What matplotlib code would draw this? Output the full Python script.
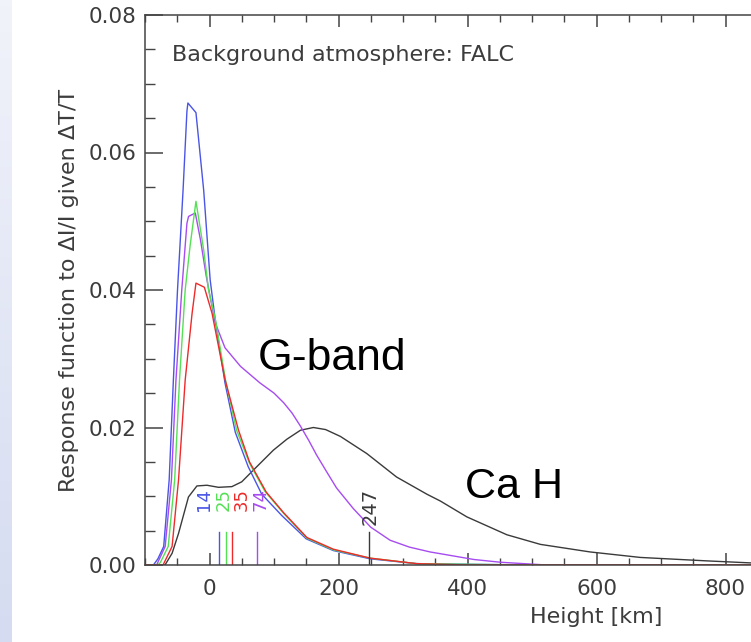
import numpy as np
import matplotlib
matplotlib.use("Agg")
import matplotlib.pyplot as plt
from matplotlib.ticker import MultipleLocator, FixedLocator, FormatStrFormatter

# response functions, height in km
h_14 = [-100, -87, -80, -71, -62.5, -56, -49.6, -41, -35, -33.5, -21, -9, 1, 9, 24, 40, 60, 81, 112, 150, 192, 249, 321, 400, 500, 1300]
r_14 = [0, 0, 0.0009, 0.0027, 0.0124, 0.0269, 0.040, 0.0545, 0.066, 0.0672, 0.0658, 0.0545, 0.0415, 0.0356, 0.0265, 0.0193, 0.0143, 0.0103, 0.0072, 0.0038, 0.0021, 0.0009, 0.0002, 0.0001, 0, 0]

h_25 = [-100, -80, -76, -64, -54, -46.5, -37.7, -30, -21, -9, -1.5, 9, 25, 42, 62, 86, 115, 151, 192, 249, 321, 400, 500, 1300]
r_25 = [0, 0, 0.0004, 0.0027, 0.0124, 0.0269, 0.040, 0.0465, 0.0529, 0.0458, 0.040, 0.0358, 0.0268, 0.0196, 0.0148, 0.0107, 0.0075, 0.0039, 0.0022, 0.0010, 0.0002, 0.0001, 0, 0]

h_35 = [-100, -72, -58, -48, -37.7, -27, -21, -8, 4, 24, 45, 62, 88, 115, 151, 192, 249, 321, 400, 1300]
r_35 = [0, 0, 0.0027, 0.0124, 0.0269, 0.0366, 0.041, 0.0404, 0.0366, 0.0270, 0.0196, 0.0150, 0.0106, 0.0076, 0.0040, 0.0023, 0.0010, 0.0002, 0, 0]

h_74 = [-100, -82, -68.7, -59, -52, -43, -35, -32.5, -22, -14, -5, 2, 9, 24, 48, 78, 100, 115, 128, 141, 154, 166, 182, 197, 223, 250, 280, 310, 342, 373, 410, 451, 523, 1300]
r_74 = [0, 0, 0.0027, 0.0124, 0.0269, 0.040, 0.0497, 0.0507, 0.0512, 0.0473, 0.042, 0.0385, 0.0352, 0.0316, 0.0289, 0.0265, 0.0250, 0.0236, 0.0221, 0.0202, 0.0181, 0.0160, 0.0135, 0.0112, 0.0082, 0.0055, 0.0036, 0.0026, 0.0019, 0.0014, 0.0008, 0.0004, 0, 0]

h_247 = [-100, -69, -58, -48, -32.6, -19.5, -4, 14, 34.7, 50, 68, 99, 120, 141, 161, 180, 203, 244, 290, 337, 358, 399, 461, 513, 590, 668, 771, 840, 1300]
r_247 = [0, 0, 0.0017, 0.0046, 0.0099, 0.0115, 0.0116, 0.0113, 0.0114, 0.0121, 0.0138, 0.0167, 0.0183, 0.0196, 0.0200, 0.0197, 0.0187, 0.0162, 0.0128, 0.0103, 0.0093, 0.0070, 0.0044, 0.0030, 0.0019, 0.0011, 0.0006, 0.0003, 0.0001]

# formation heights marked at the bottom
mark_heights = [14, 25, 35, 74, 247]
mark_labels = ["14", "25", "35", "74", "247"]
label_x = [-9, 22, 50, 79, 249]

c_blue = "#4a55e6"
c_green = "#55e055"
c_red = "#ee2a2a"
c_purple = "#a64cf0"
c_black = "#3a3a3a"
mark_colors = [c_blue, c_green, c_red, c_purple, c_black]

txt = "#3c3c3c"
plt.rcParams["font.family"] = "DejaVu Sans"

fig = plt.figure(figsize=(7.51, 6.42), dpi=100)

# light bluish strip on the left edge
strip = fig.add_axes([0, 0, 12 / 751, 1])
grad = np.linspace(0, 1, 100).reshape(-1, 1)
strip.imshow(grad, aspect="auto", cmap=matplotlib.colors.LinearSegmentedColormap.from_list("s", ["#f1f3fa", "#d5dcf1"]))
strip.axis("off")

px_per_km = 0.645
x0, x1 = -100, 1300
ax = fig.add_axes([145 / 751, 77 / 642, (x1 - x0) * px_per_km / 751, 550 / 642])

ax.plot(h_247, r_247, color=c_black, lw=1.0)
ax.plot(h_74, r_74, color=c_purple, lw=1.0)
ax.plot(h_14, r_14, color=c_blue, lw=1.0)
ax.plot(h_25, r_25, color=c_green, lw=1.0)
ax.plot(h_35, r_35, color=c_red, lw=1.0)

for h, lab, lx, c in zip(mark_heights, mark_labels, label_x, mark_colors):
    ax.plot([h, h], [0, 0.0048], color=c, lw=1.0)
    fs = 14 if lab == "247" else 13
    yb = 0.0058 if lab == "247" else 0.0078
    ax.text(lx, yb, lab, color=c, rotation=90, ha="center", va="bottom", fontsize=fs)

ax.text(-58, 0.0742, "Background atmosphere: FALC", color=txt, fontsize=16, va="center", ha="left")
ax.text(75, 0.0284, "G-band", fontsize=32, family="Liberation Sans", color="black", ha="left", va="baseline")
ax.text(396, 0.0097, "Ca H", fontsize=31, family="Liberation Sans", color="black", ha="left", va="baseline")

ax.set_xlim(x0, x1)
ax.set_ylim(0, 0.08)
ax.xaxis.set_major_locator(FixedLocator([0, 200, 400, 600, 800]))
ax.xaxis.set_minor_locator(MultipleLocator(50))
ax.yaxis.set_major_locator(MultipleLocator(0.02))
ax.yaxis.set_minor_locator(MultipleLocator(0.005))
ax.yaxis.set_major_formatter(FormatStrFormatter("%.2f"))

ax.xaxis.set_tick_params(which="major", direction="in", top=True, length=8.6, width=1.1, color="#444", pad=10)
ax.xaxis.set_tick_params(which="minor", direction="in", top=True, length=4.7, width=1.0, color="#444")
ax.yaxis.set_tick_params(which="major", direction="in", right=True, length=13, width=1.1, color="#444", pad=6)
ax.yaxis.set_tick_params(which="minor", direction="in", right=True, length=7.2, width=1.0, color="#444")
ax.tick_params(labelsize=15.5, labelcolor=txt)

for s in ax.spines.values():
    s.set_color("#444")
    s.set_linewidth(1.1)

ax.set_xlabel("Height [km]", fontsize=16, color=txt, labelpad=6)
ax.set_ylabel("Response function to ΔI/I given ΔT/T", fontsize=16, color=txt, labelpad=7)

fig.savefig("out.png", dpi=100)
